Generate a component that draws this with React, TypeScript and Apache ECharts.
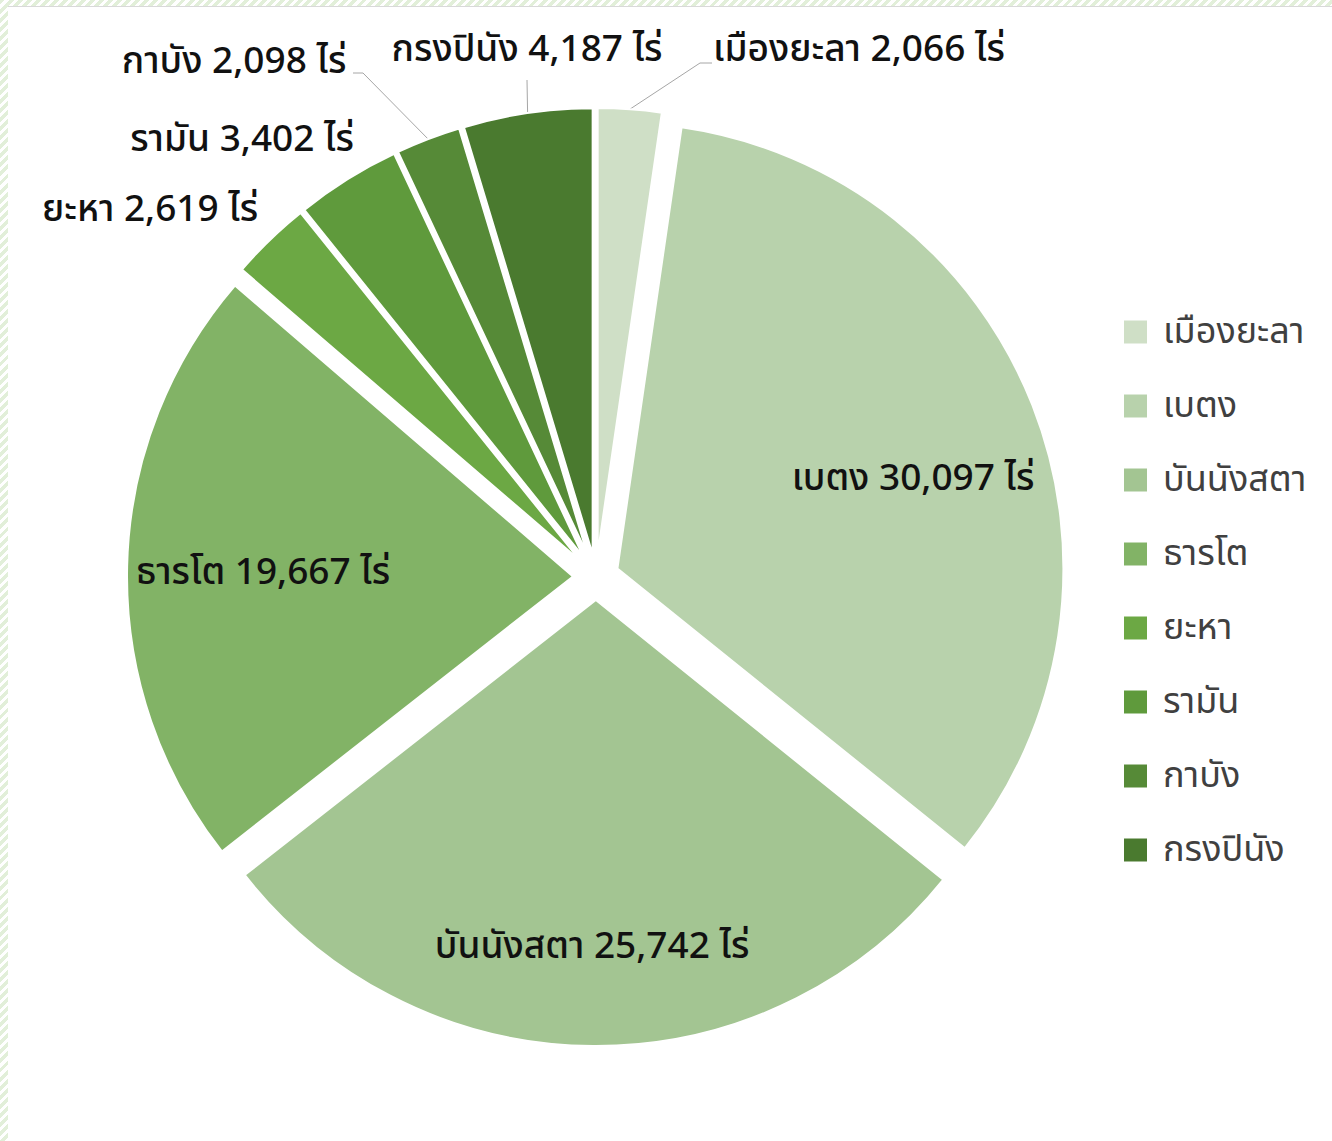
import React, { useEffect, useRef } from "react";
import * as echarts from "echarts";

const districts = ["เมืองยะลา", "เบตง", "บันนังสตา", "ธารโต", "ยะหา", "รามัน", "กาบัง", "กรงปินัง"];
const areaRai = [2066, 30097, 25742, 19667, 2619, 3402, 2098, 4187];
const unit = "ไร่";
const sliceColors = ["#cfdfc6", "#b8d2ac", "#a3c592", "#82b366", "#6ca844", "#5f9a3c", "#568a37", "#4a7a2f"];

// label layout (positions are layout, not data)
const labelPos: Array<[number, number, string]> = [
  [713, 50, "left"],
  [913, 479, "center"],
  [592, 947, "center"],
  [263, 573, "center"],
  [150, 210, "center"],
  [242, 140, "center"],
  [234, 62, "center"],
  [527, 50, "center"],
];
const leaderElbows: Array<Array<[number, number]> | null> = [
  [[700, 63], [712, 63]],
  null,
  null,
  null,
  null,
  null,
  [[363, 73], [353, 73]],
  [[527, 80]],
];

const PIE_CENTER = [596, 577];
const PIE_RADIUS = 446;
const EXPLODE = 23;

const FONT = '"Noto Sans Thai", "Leelawadee UI", Tahoma, "Noto Sans", sans-serif';

export default function App() {
  const ref = useRef<HTMLDivElement>(null);
  useEffect(() => {
    if (!ref.current) return;
    const chart = echarts.init(ref.current, null, { renderer: "svg" });
    const sliceData = districts.map((name, i) => ({
      name,
      value: areaRai[i],
      selected: true,
      itemStyle: { color: sliceColors[i] },
    }));
    const labelData = districts.map((name, i) => ({
      name,
      value: areaRai[i],
      labelLine: { show: leaderElbows[i] !== null },
    }));
    chart.setOption({
      animation: false,
      textStyle: { fontFamily: FONT },
      legend: {
        orient: "vertical",
        left: 1122,
        top: 312,
        padding: 0,
        itemWidth: 25,
        itemHeight: 25,
        itemGap: 34,
        icon: "rect",
        selectedMode: false,
        data: districts,
        textStyle: {
          fontFamily: FONT,
          fontSize: 36,
          lineHeight: 40,
          color: "#404040",
          padding: [0, 0, 0, 10],
        },
      },
      series: [
        {
          type: "pie",
          center: PIE_CENTER,
          radius: PIE_RADIUS,
          startAngle: 90,
          clockwise: true,
          selectedMode: "multiple",
          selectedOffset: EXPLODE,
          emphasis: { disabled: true },
          itemStyle: { borderColor: "#ffffff", borderWidth: 2 },
          select: { itemStyle: { borderColor: "#ffffff", borderWidth: 2 } },
          label: { show: false },
          labelLine: { show: false },
          data: sliceData,
        },
        {
          type: "pie",
          center: PIE_CENTER,
          radius: PIE_RADIUS + EXPLODE,
          startAngle: 90,
          clockwise: true,
          silent: true,
          selectedMode: false,
          avoidLabelOverlap: false,
          emphasis: { disabled: true },
          itemStyle: { color: "rgba(0,0,0,0)", borderWidth: 0 },
          label: {
            show: true,
            position: "outside",
            fontFamily: FONT,
            fontSize: 37,
            fontWeight: 500,
            color: "#111111",
            formatter: (p: any) =>
              `${p.name} ${Number(p.value).toLocaleString("en-US")} ${unit}`,
          },
          labelLine: {
            show: true,
            lineStyle: { color: "#a6a6a6", width: 1 },
            length: 10,
            length2: 10,
          },
          labelLayout: (params: any) => {
            const i = params.dataIndex;
            const [x, y, align] = labelPos[i];
            const res: any = { x, y, align, verticalAlign: "middle" };
            const elbow = leaderElbows[i];
            if (elbow && params.labelLinePoints && params.labelLinePoints[0]) {
              res.labelLinePoints = [params.labelLinePoints[0], ...elbow];
            }
            return res;
          },
          data: labelData,
        },
      ],
    });
    return () => chart.dispose();
  }, []);

  const stripe = "repeating-linear-gradient(135deg, #e2efd9 0px, #e2efd9 3.5px, #ffffff 3.5px, #ffffff 6.4px)";
  return (
    <div style={{ position: "absolute", left: 0, top: 0, width: 1332, height: 1141, background: "#fff" }}>
      <div ref={ref} style={{ position: "absolute", left: 0, top: 0, width: 1332, height: 1141 }} />
      <div style={{ position: "absolute", left: 0, top: 0, width: 1332, height: 6, background: stripe }} />
      <div style={{ position: "absolute", left: 8, top: 6, width: 1324, height: 1, background: "#d9d9d9" }} />
      <div style={{ position: "absolute", left: 0, top: 0, width: 8, height: 1141, background: stripe }} />
    </div>
  );
}
